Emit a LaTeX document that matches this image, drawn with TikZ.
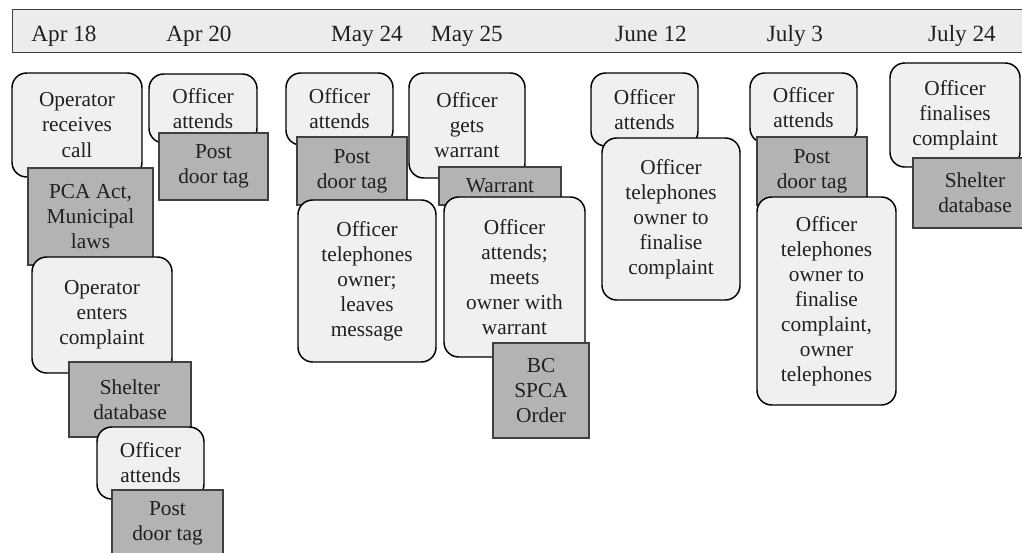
\documentclass[tikz,border=0pt]{standalone}
\usepackage{fontspec}
\setmainfont{Liberation Serif}
\definecolor{evfill}{HTML}{F0F0F0}
\definecolor{dcfill}{HTML}{B3B3B3}
\definecolor{barfill}{HTML}{ECECEC}
\definecolor{ink}{HTML}{231F20}
\tikzset{
  ev/.style={draw=black,line width=1.1pt,fill=evfill,rounded corners=11pt,align=center,inner sep=2pt,text=ink,font=\fontsize{16}{18.8}\selectfont},
  dc/.style={draw=black!75,line width=0.8pt,fill=dcfill,align=center,inner sep=2pt,text=ink,font=\fontsize{16}{18.8}\selectfont},
  dt/.style={anchor=base,inner sep=0pt,text=ink,font=\fontsize{17.4}{20}\selectfont},
  sz/.style 2 args={minimum width=#1*0.75pt,minimum height=#2*0.75pt}
}

\begin{document}
\begin{tikzpicture}[x=0.75pt,y=-0.75pt]
    \useasboundingbox (0,0) rectangle (1022,553);
    \clip (0,0) rectangle (1022,553);
    \node[draw=black!75,line width=1pt,fill=barfill,sz={1030}{43},anchor=north west] (bar) at (12,9) {};
    \node[dt] (d1) at (64,41) {Apr 18};
    \node[dt] (d2) at (199,41) {Apr 20};
    \node[dt] (d3) at (367,41) {May 24};
    \node[dt] (d4) at (467,41) {May 25};
    \node[dt] (d5) at (651,41) {June 12};
    \node[dt] (d6) at (795,41) {July 3};
    \node[dt] (d7) at (962,41) {July 24};
    % Apr 18
    \node[ev,sz={130}{104}] (opcall) at (77,125) {Operator\\receives\\call};
    \node[dc,sz={125}{97}] (pca) at (90.5,216.5) {PCA Act,\\Municipal\\laws};
    \node[ev,sz={140}{116}] (openter) at (102,315) {Operator\\enters\\complaint};
    \node[dc,sz={122}{75}] (shelterA) at (130,399.5) {Shelter\\database};
    \node[ev,sz={107}{72}] (attendA) at (150.5,463) {Officer\\attends};
    \node[dc,sz={111}{67}] (tagA) at (167.5,523.5) {Post\\door tag};
    % Apr 20
    \node[ev,sz={108}{69}] (attendB) at (203,108.5) {Officer\\attends};
    \node[dc,sz={109}{67}] (tagB) at (213.5,166.5) {Post\\door tag};
    % May 24
    \node[ev,sz={107}{72}] (attendC) at (339.5,109) {Officer\\attends};
    \node[dc,sz={110}{68}] (tagC) at (352,171) {Post\\door tag};
    \node[ev,sz={138}{162}] (phoneC) at (367,281) {Officer\\telephones\\owner;\\leaves\\message};
    % May 25
    \node[ev,sz={116}{105}] (getwar) at (467,125.5) {Officer\\gets\\warrant};
    \node[dc,sz={122}{38}] (war) at (500,186) {Warrant};
    \node[ev,sz={141}{160}] (meet) at (514.5,277) {Officer\\attends;\\meets\\owner with\\warrant};
    \node[dc,sz={96}{95}] (order) at (541,390.5) {BC\\SPCA\\Order};
    % June 12
    \node[ev,sz={107}{73}] (attendE) at (644.5,109.5) {Officer\\attends};
    \node[ev,sz={138}{162}] (phoneE) at (671,219) {Officer\\telephones\\owner to\\finalise\\complaint};
    % July 3
    \node[ev,sz={107}{70}] (attendF) at (803.5,108) {Officer\\attends};
    \node[dc,sz={110}{68}] (tagF) at (812,171) {Post\\door tag};
    \node[ev,sz={139}{208}] (phoneF) at (826.5,301) {Officer\\telephones\\owner to\\finalise\\complaint,\\owner\\telephones};
    % July 24
    \node[ev,sz={130}{104}] (final) at (955,115) {Officer\\finalises\\complaint};
    \node[dc,sz={124}{70}] (shelterG) at (975,193) {Shelter\\database};
\end{tikzpicture}
\end{document}
